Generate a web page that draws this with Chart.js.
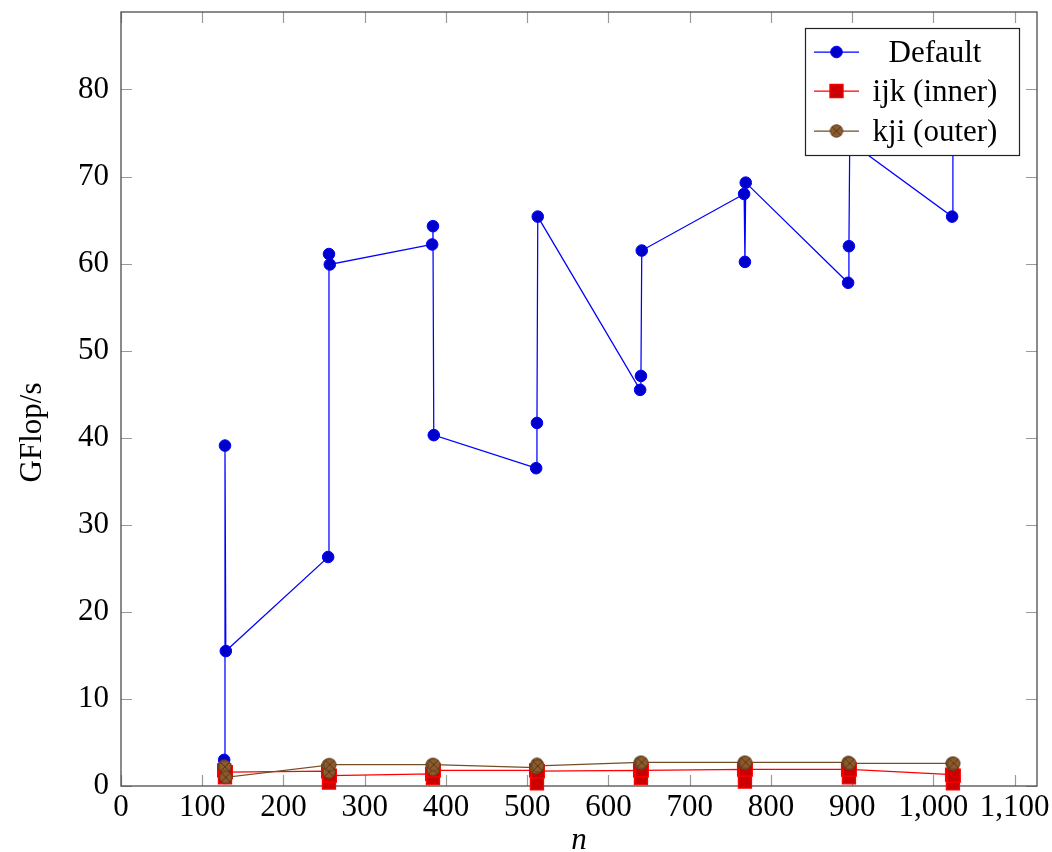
<!DOCTYPE html>
<html>
<head>
<meta charset="utf-8">
<script src="https://cdn.jsdelivr.net/npm/chart.js@4.4.1/dist/chart.umd.min.js"></script>
<style>
html,body{margin:0;padding:0;background:#ffffff;}
canvas{display:block;}
</style>
</head>
<body>
<canvas id="c" width="1052" height="852" style="width:1052px;height:852px"></canvas>
<script>
// ---- data ----
const nValues = [127,128,129, 255,256,257, 383,384,385, 511,512,513, 639,640,641, 767,768,769, 895,896,897, 1023,1024,1025];
const defaultValues = [3.0,39.1,15.5, 26.3,61.1,59.9, 62.2,64.3,40.3, 36.5,41.7,65.4, 45.5,47.1,61.5, 68.0,60.2,69.3, 57.8,62.0,74.0, 65.4,80.8,77.0];
const ijkValues = [1.8,1.0,1.6, 1.7,0.4,1.2, 1.4,0.9,1.8, 1.8,0.3,1.7, 1.8,0.9,1.8, 1.9,0.5,1.9, 1.9,1.0,1.9, 1.3,0.3,1.2];
const kjiValues = [2.3,2.2,1.0, 2.4,1.6,2.45, 2.45,1.9,2.45, 2.1,2.5,2.3, 2.7,2.6,2.7, 2.7,2.6,2.7, 2.7,2.6,2.6, 2.6,2.5,2.6];
const seriesNames = ['Default', 'ijk (inner)', 'kji (outer)'];
const xTickValues = [0,100,200,300,400,500,600,700,800,900,1000,1100];
const xTickLabels = ['0','100','200','300','400','500','600','700','800','900','1,000','1,100'];
const yTickValues = [0,10,20,30,40,50,60,70,80];
const yTickLabels = ['0','10','20','30','40','50','60','70','80'];
const xAxisTitle = 'n';
const yAxisTitle = 'GFlop/s';

// ---- styles ----
const FONT = '"Liberation Serif", "Times New Roman", serif';
const FS = 31;
const xMax = 1127.5;
const yMax = 88.9;

function otimesCanvas() {
  const c = document.createElement('canvas');
  c.width = 16; c.height = 16;
  const g = c.getContext('2d');
  const R = 6.2;
  g.beginPath(); g.arc(8, 8, R, 0, Math.PI * 2);
  g.fillStyle = '#8c5a2b'; g.fill();
  g.lineWidth = 1; g.strokeStyle = '#5c3d1f'; g.stroke();
  g.beginPath();
  const d = R * Math.SQRT1_2;
  g.moveTo(8 - d, 8 - d); g.lineTo(8 + d, 8 + d);
  g.moveTo(8 + d, 8 - d); g.lineTo(8 - d, 8 + d);
  g.lineWidth = 0.8; g.strokeStyle = '#4a3018'; g.stroke();
  return c;
}
const otimes = otimesCanvas();

const pts = vals => nValues.map((n, i) => ({x: n, y: vals[i]}));

const styles = [
  {line: '#0000ff', style: 'circle', r: 5.8, bg: '#0000cc', bd: '#0000ff', bw: 1},
  {line: '#ff0000', style: 'rect', r: 9.3, bg: '#cc0000', bd: '#ff0000', bw: 1.2},
  {line: '#734d26', style: otimes, r: 6.5, bg: '#8c5a2b', bd: '#5c3d1f', bw: 1}
];

function mkDataset(i, vals, order) {
  const s = styles[i];
  return {
    label: seriesNames[i],
    data: pts(vals),
    borderColor: s.line,
    borderWidth: 1.25,
    backgroundColor: s.bg,
    pointStyle: s.style,
    pointRadius: s.r,
    pointBackgroundColor: s.bg,
    pointBorderColor: s.bd,
    pointBorderWidth: s.bw,
    tension: 0,
    fill: false,
    clip: false,
    order: order
  };
}

// frame + inward ticks, drawn below data (like pgfplots); y-axis label
const framePlugin = {
  id: 'frame',
  beforeDatasetsDraw(chart) {
    const {ctx, chartArea: a, scales} = chart;
    ctx.save();
    ctx.strokeStyle = '#9a9a9a';
    ctx.lineWidth = 1.2;
    const TL = 11;
    ctx.beginPath();
    xTickValues.forEach(v => {
      const px = Math.round(scales.x.getPixelForValue(v)) + 0.5;
      ctx.moveTo(px, a.bottom); ctx.lineTo(px, a.bottom - TL);
      ctx.moveTo(px, a.top); ctx.lineTo(px, a.top + TL);
    });
    yTickValues.forEach(v => {
      const py = Math.round(scales.y.getPixelForValue(v)) + 0.5;
      ctx.moveTo(a.left, py); ctx.lineTo(a.left + TL, py);
      ctx.moveTo(a.right, py); ctx.lineTo(a.right - TL, py);
    });
    ctx.stroke();
    ctx.strokeStyle = '#4d4d4d';
    ctx.lineWidth = 1.3;
    ctx.strokeRect(a.left, a.top, a.right - a.left, a.bottom - a.top);
    // y axis title
    ctx.translate(33, scales.y.getPixelForValue(40.6));
    ctx.rotate(-Math.PI / 2);
    ctx.fillStyle = '#000';
    ctx.font = FS + 'px ' + FONT;
    ctx.textAlign = 'center';
    ctx.textBaseline = 'middle';
    ctx.fillText(yAxisTitle, 0, 0);
    ctx.restore();
  }
};

function drawMarker(ctx, i, x, y) {
  const s = styles[i];
  if (i === 2) { ctx.drawImage(otimes, x - 8, y - 8); return; }
  ctx.beginPath();
  if (s.style === 'circle') {
    ctx.arc(x, y, s.r, 0, Math.PI * 2);
  } else {
    const h = s.r * Math.SQRT1_2;
    ctx.rect(x - h, y - h, 2 * h, 2 * h);
  }
  ctx.fillStyle = s.bg; ctx.fill();
  ctx.lineWidth = s.bw; ctx.strokeStyle = s.bd; ctx.stroke();
}

// pgfplots-style legend box, drawn over the data
const legendPlugin = {
  id: 'boxLegend',
  afterDatasetsDraw(chart) {
    const {ctx, chartArea: a} = chart;
    const bx = a.right - 232, by = a.top + 16, bw = 214, bh = 127;
    ctx.save();
    ctx.fillStyle = '#ffffff';
    ctx.fillRect(bx, by, bw, bh);
    ctx.strokeStyle = '#222222';
    ctx.lineWidth = 1.2;
    ctx.strokeRect(bx + 0.5, by + 0.5, bw, bh);
    const rows = [by + 24, by + 63, by + 103];
    seriesNames.forEach((name, i) => {
      const y = rows[i];
      ctx.beginPath();
      ctx.moveTo(bx + 9, y); ctx.lineTo(bx + 54, y);
      ctx.strokeStyle = styles[i].line; ctx.lineWidth = 1.25; ctx.stroke();
      drawMarker(ctx, i, bx + 31.5, y);
      ctx.fillStyle = '#000000';
      ctx.font = FS + 'px ' + FONT;
      ctx.textAlign = 'center';
      ctx.textBaseline = 'alphabetic';
      ctx.fillText(name, bx + 130, y + 10);
    });
    ctx.restore();
  }
};

new Chart(document.getElementById('c'), {
  type: 'line',
  data: {
    datasets: [
      mkDataset(0, defaultValues, 2),
      mkDataset(1, ijkValues, 1),
      mkDataset(2, kjiValues, 0)
    ]
  },
  options: {
    responsive: false,
    devicePixelRatio: 1,
    animation: false,
    layout: {padding: {left: 0, top: 12, right: 15, bottom: 0}},
    plugins: {legend: {display: false}, tooltip: {enabled: false}},
    scales: {
      x: {
        type: 'linear', min: 0, max: xMax,
        grid: {display: false, drawTicks: false},
        border: {display: false},
        ticks: {
          includeBounds: false, padding: 3, color: '#000',
          font: {family: FONT, size: FS},
          callback: (v, i) => xTickLabels[i]
        },
        afterBuildTicks: s => { s.ticks = xTickValues.map(v => ({value: v})); },
        title: {display: true, text: xAxisTitle, color: '#000', padding: 0,
          font: {family: FONT, size: FS, style: 'italic', lineHeight: 0.7}},
        afterFit: s => { s.height = 66; s.paddingLeft = 0; s.paddingRight = 0; }
      },
      y: {
        type: 'linear', min: 0, max: yMax,
        grid: {display: false, drawTicks: false},
        border: {display: false},
        ticks: {
          includeBounds: false, padding: 12, color: '#000',
          font: {family: FONT, size: FS},
          callback: (v, i) => yTickLabels[i]
        },
        afterBuildTicks: s => { s.ticks = yTickValues.map(v => ({value: v})); },
        title: {display: false},
        afterFit: s => { s.width = 121; s.paddingTop = 0; s.paddingBottom = 0; }
      }
    }
  },
  plugins: [framePlugin, legendPlugin]
});
</script>
</body>
</html>
